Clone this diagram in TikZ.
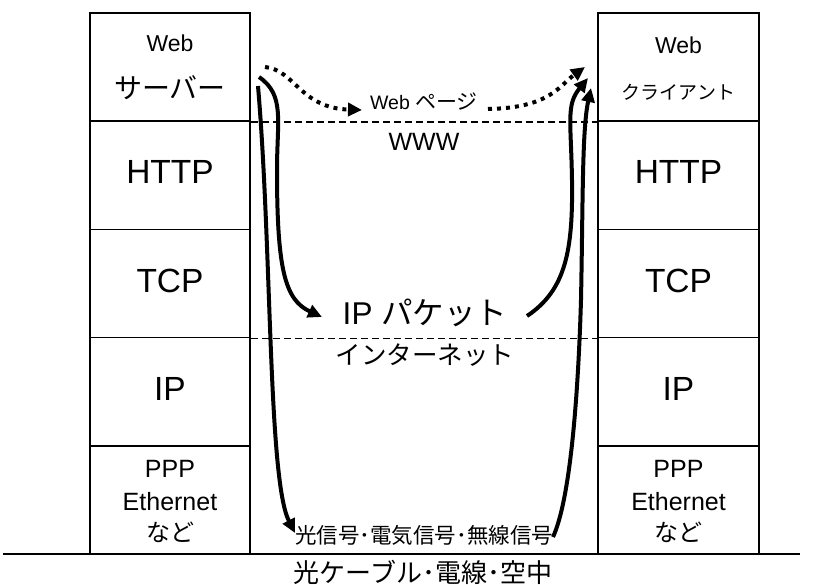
\documentclass[tikz,border=0pt]{standalone}
\usepackage{fontspec}
\setmainfont{Liberation Sans}
\newfontfamily\jp{Noto Sans CJK JP}
\usetikzlibrary{arrows.meta}
\tikzset{
  cell/.style={draw, line width=1.5pt, minimum width=160pt, minimum height=108.2pt, inner sep=0pt},
  txt/.style={inner sep=0pt, anchor=center},
  big/.style={txt, font=\fontsize{33.5}{36}\selectfont},
  small/.style={txt, font=\fontsize{25}{28}\selectfont},
  flow/.style={line width=4pt, -{Triangle[length=14pt,width=13pt]}},
  dotflow/.style={line width=4pt, dash pattern=on 4pt off 5pt, -{Triangle[length=14pt,width=13pt]}},
  layerline/.style={line width=1.2pt, dash pattern=on 7pt off 4pt},
}
\begin{document}
\begin{tikzpicture}[x=1pt,y=-1pt]
\useasboundingbox (0,0) rectangle (828,585);
% left stack
\node[cell] (L1) at (170,67.1) {};
\node[cell] (L2) at (170,175.3) {};
\node[cell] (L3) at (170,283.5) {};
\node[cell] (L4) at (170,391.7) {};
\node[cell] (L5) at (170,499.9) {};
% right stack
\node[cell, minimum width=161pt] (R1) at (678.5,67.1) {};
\node[cell, minimum width=161pt] (R2) at (678.5,175.3) {};
\node[cell, minimum width=161pt] (R3) at (678.5,283.5) {};
\node[cell, minimum width=161pt] (R4) at (678.5,391.7) {};
\node[cell, minimum width=161pt] (R5) at (678.5,499.9) {};
% ground line
\coordinate (g1) at (3,554);
\coordinate (g2) at (800,554);
\draw[line width=2pt] (g1) -- (g2);
% dashed layer lines
\draw[layerline] (L1.south east) -- (R1.south west);
\draw[layerline] (L3.south east) -- (R3.south west);
% left texts
\node[txt, font=\fontsize{23}{26}\selectfont] (lweb) at (170,43) {Web};
\node[txt, font=\fontsize{28}{30}\selectfont\jp] (lsrv) at (170,88) {サーバー};
\node[big] (lhttp) at (170,172) {HTTP};
\node[big] (ltcp) at (170,280.5) {TCP};
\node[big] (lip) at (170,389) {IP};
\node[small] (lppp) at (170,469) {PPP};
\node[small] (leth) at (170,502) {Ethernet};
\node[txt, font=\fontsize{24}{26}\selectfont\jp] (lnado) at (170,532) {など};
% right texts
\node[txt, font=\fontsize{23}{26}\selectfont] (rweb) at (678.5,45) {Web};
\node[txt, font=\fontsize{19}{22}\selectfont\jp] (rcli) at (678.5,92) {クライアント};
\node[big] (rhttp) at (678.5,172) {HTTP};
\node[big] (rtcp) at (678.5,280.5) {TCP};
\node[big] (rip) at (678.5,389) {IP};
\node[small] (rppp) at (678.5,469) {PPP};
\node[small] (reth) at (678.5,502) {Ethernet};
\node[txt, font=\fontsize{24}{26}\selectfont\jp] (rnado) at (678.5,532) {など};
% middle texts
\node[inner sep=0pt, anchor=base, font=\fontsize{19.5}{22}\selectfont] (wpage) at (424,110) {Web {\jp\fontsize{21}{22}\selectfont ページ}};
\node[txt, font=\fontsize{25}{28}\selectfont] (www) at (424,142) {WWW};
\node[inner sep=0pt, anchor=base, font=\fontsize{31.5}{34}\selectfont] (ippkt) at (425,325) {IP {\jp パケット}};
\node[txt, font=\fontsize{25.5}{28}\selectfont\jp] (inet) at (425,355) {インターネット};
\node[txt, font=\fontsize{21.5}{24}\selectfont\jp] (sig) at (424,535) {光信号･電気信号･無線信号};
\node[txt, font=\fontsize{26}{28}\selectfont\jp] (medium) at (423,572.5) {光ケーブル･電線･空中};
% arrow end points
\coordinate (s0) at (265,67);
\coordinate (s1) at (258,86);
\coordinate (s2) at (259,77);
\coordinate (e1) at (362,110);
\coordinate (e2) at (585,67);
\coordinate (c0) at (488,109);
\coordinate (p0) at (322,317);
\coordinate (p1) at (527,316);
\coordinate (p2) at (588,78);
\coordinate (q0) at (295,533);
\coordinate (q1) at (553,537);
\coordinate (q2) at (591,88);
% dotted web page arrows
\draw[dotflow] (s0) .. controls (295,70) and (300,108) .. (e1);
\draw[dotflow] (c0) .. controls (550,108) and (560,85) .. (e2);
% solid arrows
\draw[flow] (s1) .. controls (272,250) and (268,480) .. (q0);
\draw[flow] (s2) .. controls (285,95) and (277,120) .. (277,170) .. controls (277,270) and (285,300) .. (p0);
\draw[flow] (p1) .. controls (566,290) and (573,250) .. (572,180) .. controls (571,120) and (566,105) .. (p2);
\draw[flow] (q1) .. controls (570,500) and (578,400) .. (581,300) .. controls (583,200) and (582,130) .. (q2);
\end{tikzpicture}
\end{document}
